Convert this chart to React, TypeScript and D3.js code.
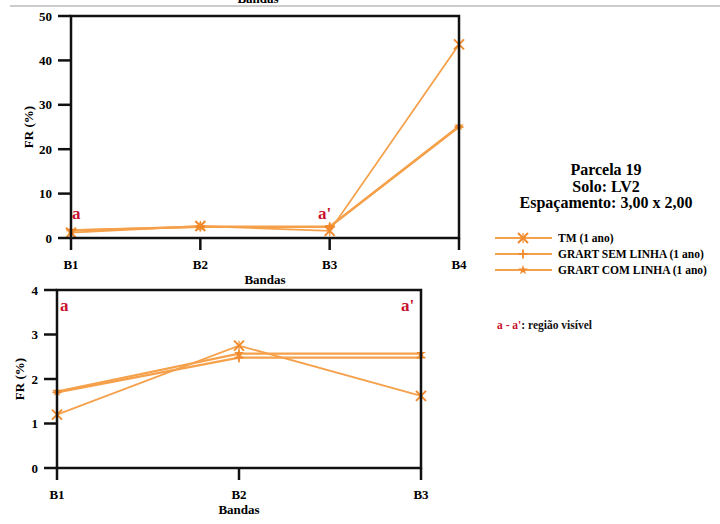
import React from "react";
import * as d3 from "d3";

const bandsTop = ["B1", "B2", "B3", "B4"];
const bandsBottom = ["B1", "B2", "B3"];
const tmTop = [1.2, 2.7, 1.6, 43.6];
const semTop = [1.7, 2.48, 2.48, 25];
const comTop = [1.72, 2.57, 2.57, 25.2];
const tmBottom = [1.2, 2.75, 1.62];
const semBottom = [1.7, 2.48, 2.48];
const comBottom = [1.72, 2.57, 2.57];
const yTicksTop = [0, 10, 20, 30, 40, 50];
const yTicksBottom = [0, 1, 2, 3, 4];
const seriesNames = ["TM (1 ano)", "GRART SEM LINHA (1 ano)", "GRART COM LINHA (1 ano)"];
const titleLines = ["Parcela 19", "Solo: LV2", "Espaçamento: 3,00 x 2,00"];

const ORANGE = "#F5A04A";
const MARK = "#F08A2C";
const RED = "#C8102E";
const FONT = "'Liberation Serif', 'Times New Roman', serif";

function Marker({ x, y, type }: { x: number; y: number; type: number }) {
  if (type === 0) {
    const s = 5;
    return (
      <g stroke={MARK} strokeWidth={2}>
        <line x1={x - s} y1={y - s} x2={x + s} y2={y + s} />
        <line x1={x - s} y1={y + s} x2={x + s} y2={y - s} />
        <line x1={x} y1={y - s} x2={x} y2={y + s} strokeWidth={1.2} />
      </g>
    );
  }
  if (type === 1) {
    const s = 4.5;
    return (
      <g stroke={MARK} strokeWidth={1.8}>
        <line x1={x - s} y1={y} x2={x + s} y2={y} />
        <line x1={x} y1={y - s} x2={x} y2={y + s} />
      </g>
    );
  }
  const sym = d3.symbol(d3.symbolStar, 30)();
  return <path d={sym || ""} transform={`translate(${x},${y})`} fill={MARK} />;
}

function Panel({
  bands, series, yTicks, yMax, left, right, top, bottom, labelX, aLeftX, aRightX, aY,
}: {
  bands: string[]; series: number[][]; yTicks: number[]; yMax: number;
  left: number; right: number; top: number; bottom: number; labelX: number;
  aLeftX: number; aRightX: number; aY: number;
}) {
  const x = d3.scalePoint<string>().domain(bands).range([left, right]);
  const y = d3.scaleLinear().domain([0, yMax]).range([bottom, top]);
  const line = d3.line<number>().x((_, i) => x(bands[i]) as number).y((d) => y(d));
  return (
    <g fontFamily={FONT} fontWeight="bold">
      {series.map((s, k) => (
        <path key={k} d={line(s) || ""} fill="none" stroke={ORANGE} strokeWidth={k === 0 ? 1.8 : 2.2} />
      ))}
      {series.map((s, k) =>
        s.map((v, i) => <Marker key={`${k}-${i}`} x={x(bands[i]) as number} y={y(v)} type={k} />)
      )}
      <rect x={left} y={top} width={right - left} height={bottom - top} fill="none" stroke="#111" strokeWidth={2.5} />
      {yTicks.map((t) => (
        <g key={t}>
          <line x1={left - 13} x2={left} y1={y(t)} y2={y(t)} stroke="#111" strokeWidth={2.5} />
          <text x={left - 19} y={y(t) + 4.5} textAnchor="end" fontSize={13}>{t}</text>
        </g>
      ))}
      {bands.map((b) => (
        <g key={b}>
          <line x1={x(b) as number} x2={x(b) as number} y1={bottom} y2={bottom + 12} stroke="#111" strokeWidth={2.5} />
          <text x={x(b) as number} y={bottom + 31} textAnchor="middle" fontSize={13}>{b}</text>
        </g>
      ))}
      <text x={(left + right) / 2} y={bottom + 46} textAnchor="middle" fontSize={13}>Bandas</text>
      <text transform={`translate(${labelX},${(top + bottom) / 2}) rotate(-90)`} textAnchor="middle" fontSize={13}>FR (%)</text>
      <text x={aLeftX} y={aY} fill={RED} fontSize={17}>a</text>
      <text x={aRightX} y={aY} fill={RED} fontSize={17}>a'</text>
    </g>
  );
}

export default function App() {
  return (
    <svg width={720} height={524} style={{ position: "absolute", left: 0, top: 0, background: "#fff" }}>
      <rect width={720} height={524} fill="#fff" />
      <line x1={10} x2={720} y1={6} y2={6} stroke="#bbb" strokeWidth={1.5} />
      <text x={258} y={3} textAnchor="middle" fontFamily={FONT} fontWeight="bold" fontSize={13}>Bandas</text>
      <Panel bands={bandsTop} series={[tmTop, semTop, comTop]} yTicks={yTicksTop} yMax={50}
        left={71} right={459} top={16} bottom={238} labelX={33} aLeftX={72} aRightX={318} aY={219} />
      <Panel bands={bandsBottom} series={[tmBottom, semBottom, comBottom]} yTicks={yTicksBottom} yMax={4}
        left={57} right={421} top={290} bottom={468} labelX={24} aLeftX={60} aRightX={401} aY={311} />
      <g fontFamily={FONT} fontWeight="bold">
        {titleLines.map((t, i) => (
          <text key={t} x={606} y={175 + i * 16.5} textAnchor="middle" fontSize={16}>{t}</text>
        ))}
        {seriesNames.map((n, i) => {
          const yy = 238 + i * 16;
          return (
            <g key={n}>
              <line x1={495} x2={552} y1={yy} y2={yy} stroke={ORANGE} strokeWidth={2} />
              <Marker x={523} y={yy} type={i} />
              <text x={558} y={yy + 4} fontSize={11.5}>{n}</text>
            </g>
          );
        })}
        <text x={497} y={329} fontSize={11.5}>
          <tspan fill={RED}>a - a'</tspan>
          <tspan fill="#111">: região visível</tspan>
        </text>
      </g>
    </svg>
  );
}
